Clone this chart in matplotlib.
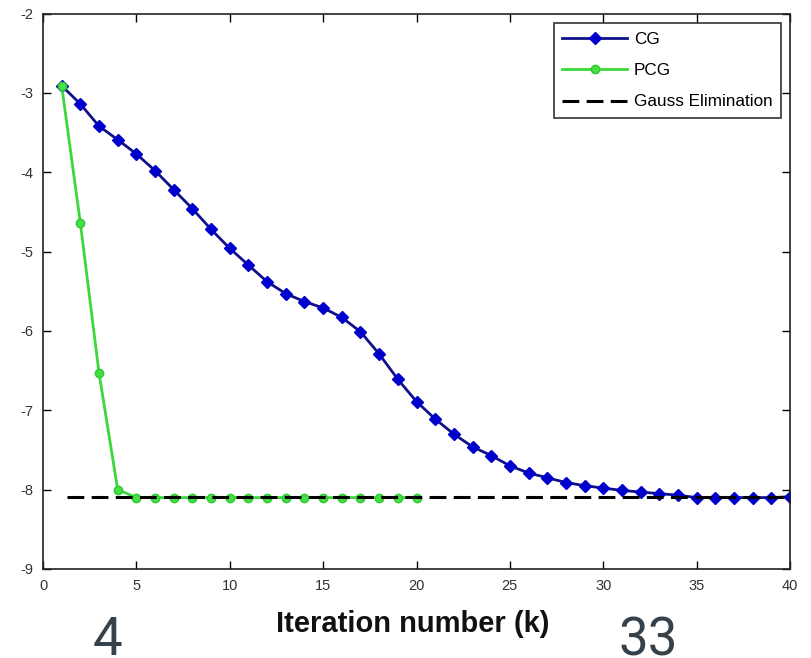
import matplotlib
matplotlib.use('Agg')
import matplotlib.pyplot as plt

# iteration counts
k_cg = list(range(1, 41))
k_pcg = list(range(1, 21))

# log residual per iteration
cg = [-2.91, -3.14, -3.42, -3.59, -3.77, -3.98, -4.22, -4.46, -4.72, -4.96,
      -5.17, -5.38, -5.53, -5.63, -5.71, -5.83, -6.01, -6.29, -6.61, -6.89,
      -7.11, -7.30, -7.46, -7.57, -7.70, -7.79, -7.85, -7.91, -7.95, -7.98,
      -8.01, -8.03, -8.05, -8.07, -8.10, -8.10, -8.10, -8.10, -8.10, -8.09]
pcg = [-2.91, -4.64, -6.53, -8.00, -8.10, -8.10, -8.10, -8.10, -8.10, -8.10,
       -8.10, -8.10, -8.10, -8.10, -8.10, -8.10, -8.10, -8.10, -8.10, -8.10]
gauss_level = -8.09
gauss_span = [1.3, 40]

# iteration counts marked under the axis
notes = ['4', '33']
note_x = [107, 648]

plt.rcParams['font.family'] = ['Liberation Sans', 'DejaVu Sans']
plt.rcParams['axes.unicode_minus'] = False
fig = plt.figure(figsize=(8.11, 6.58), dpi=100)
ax = fig.add_axes([43 / 811, 1 - 569 / 658, 747 / 811, 555.5 / 658])

ax.plot(k_cg, cg, color='#10108a', lw=2, marker='D', ms=6,
        mfc='#0000cc', mec='#0000cc', label='CG')
ax.plot(k_pcg, pcg, color='#3ad83a', lw=2, marker='o', ms=6,
        mfc='#44e044', mec='#30c830', label='PCG')
ax.plot(gauss_span, [gauss_level, gauss_level], color='black', lw=2.2,
        ls=(0, (5.5, 2.4)), label='Gauss Elimination')

ax.set_xlim(0, 40)
ax.set_ylim(-9, -2)
ax.set_xticks(range(0, 41, 5))
ax.set_yticks(range(-9, -1))
ax.tick_params(direction='in', length=6, width=1, top=True, right=True,
               labelsize=10.5, labelcolor='#333333', pad=7)
for s in ax.spines.values():
    s.set_linewidth(1.2)
    s.set_color('#222222')

leg = ax.legend(loc='upper right', bbox_to_anchor=(0.988, 0.982),
                fontsize=12.3, frameon=True, fancybox=False,
                edgecolor='black', borderpad=0.5, handlelength=3.8,
                handletextpad=0.4, labelspacing=0.95, borderaxespad=0)
leg.get_frame().set_linewidth(1.2)

fig.text(413 / 811, 1 - 624 / 658, 'Iteration number (k)', ha='center',
         va='center', fontsize=21, fontweight='bold', color='#111111')

for t, x in zip(notes, note_x):
    fig.text(x / 811, 1 - 655 / 658, t, ha='center', va='baseline',
             fontsize=38, color='#36414a', family='Roboto')

fig.savefig('out.png', dpi=100)
